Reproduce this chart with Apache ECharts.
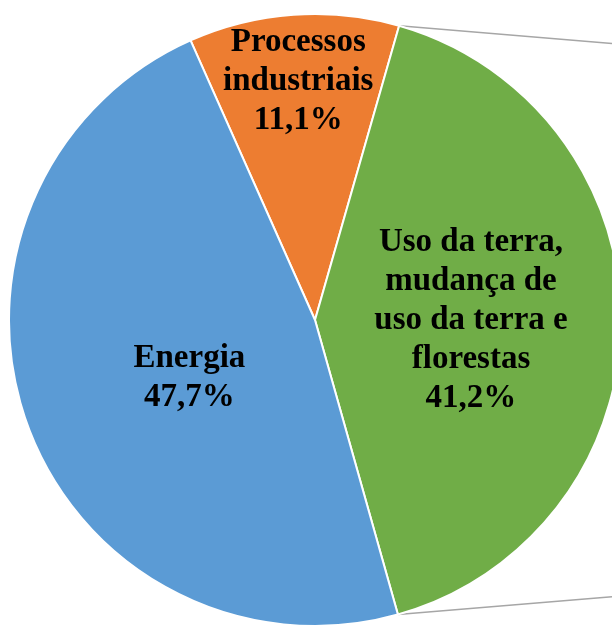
<!DOCTYPE html>
<html>
<head>
<meta charset="utf-8">
<script src="https://cdn.jsdelivr.net/npm/echarts@6/dist/echarts.min.js"></script>
<style>html,body{margin:0;padding:0;background:#fff}#c{width:612px;height:630px}</style>
</head>
<body>
<div id="c"></div>
<script>
// Data
const categories = ['Processos\nindustriais', 'Uso da terra,\nmudança de\nuso da terra e\nflorestas', 'Energia'];
const values = [11.1, 41.2, 47.7];
const colors = ['#ED7D31', '#70AD47', '#5B9BD5'];

const CX = 315, CY = 320, R = 306, START = 114;
const fmt = p => p.name + '\n' + p.value.toFixed(1).replace('.', ',') + '%';
const fmtGap = p => '{gap|}\n' + fmt(p);
const labelStyle = {
  fontFamily: 'Liberation Serif, Times New Roman, serif',
  fontWeight: 'bold', fontSize: 33, lineHeight: 39, color: '#000'
};

const chart = echarts.init(document.getElementById('c'), null, {renderer: 'canvas'});

// connector lines from the green slice's tips (pie-of-pie style)
const total = values.reduce((a, b) => a + b, 0);
const aStart = (START - values[0] / total * 360) * Math.PI / 180;
const aEnd = (START - (values[0] + values[1]) / total * 360) * Math.PI / 180;
const p1 = [CX + R * Math.cos(aStart), CY - R * Math.sin(aStart)];
const p2 = [CX + R * Math.cos(aEnd), CY - R * Math.sin(aEnd)];
const slope = 0.083, W = 612;

// invisible ring used only to place one slice's label at the ring's mid radius
function labelRing(radius, idx, formatter, padding) {
  return {
    type: 'pie',
    silent: true,
    center: [CX, CY],
    radius: radius,
    startAngle: START,
    clockwise: true,
    avoidLabelOverlap: false,
    itemStyle: {color: 'rgba(0,0,0,0)', borderWidth: 0},
    label: Object.assign({
      show: true, position: 'inside', formatter: formatter, padding: padding || 0,
      rich: {gap: {fontSize: 1, lineHeight: 20}}
    }, labelStyle),
    labelLine: {show: false},
    emphasis: {disabled: true},
    data: categories.map((c, i) => ({
      name: c, value: values[i],
      label: {show: i === idx}
    }))
  };
}

chart.setOption({
  animation: false,
  series: [
    {
      type: 'pie',
      center: [CX, CY],
      radius: [0, R],
      startAngle: START,
      clockwise: true,
      avoidLabelOverlap: false,
      itemStyle: {borderColor: '#fff', borderWidth: 2},
      label: Object.assign({show: true, position: 'inside', formatter: fmt}, labelStyle),
      labelLine: {show: false},
      emphasis: {disabled: true},
      data: categories.map((c, i) => ({
        name: c, value: values[i], itemStyle: {color: colors[i]},
        label: {show: i === 1}
      }))
    },
    labelRing([166, R], 0, fmt),
    labelRing([0, 276], 2, fmtGap, [0, 0, 0, 14])
  ],
  graphic: [
    {type: 'line', z: -1, shape: {x1: p1[0], y1: p1[1], x2: W, y2: p1[1] + slope * (W - p1[0])},
     style: {stroke: '#A6A6A6', lineWidth: 1.5}},
    {type: 'line', z: -1, shape: {x1: p2[0], y1: p2[1], x2: W, y2: p2[1] - slope * (W - p2[0])},
     style: {stroke: '#A6A6A6', lineWidth: 1.5}}
  ]
});
</script>
</body>
</html>
